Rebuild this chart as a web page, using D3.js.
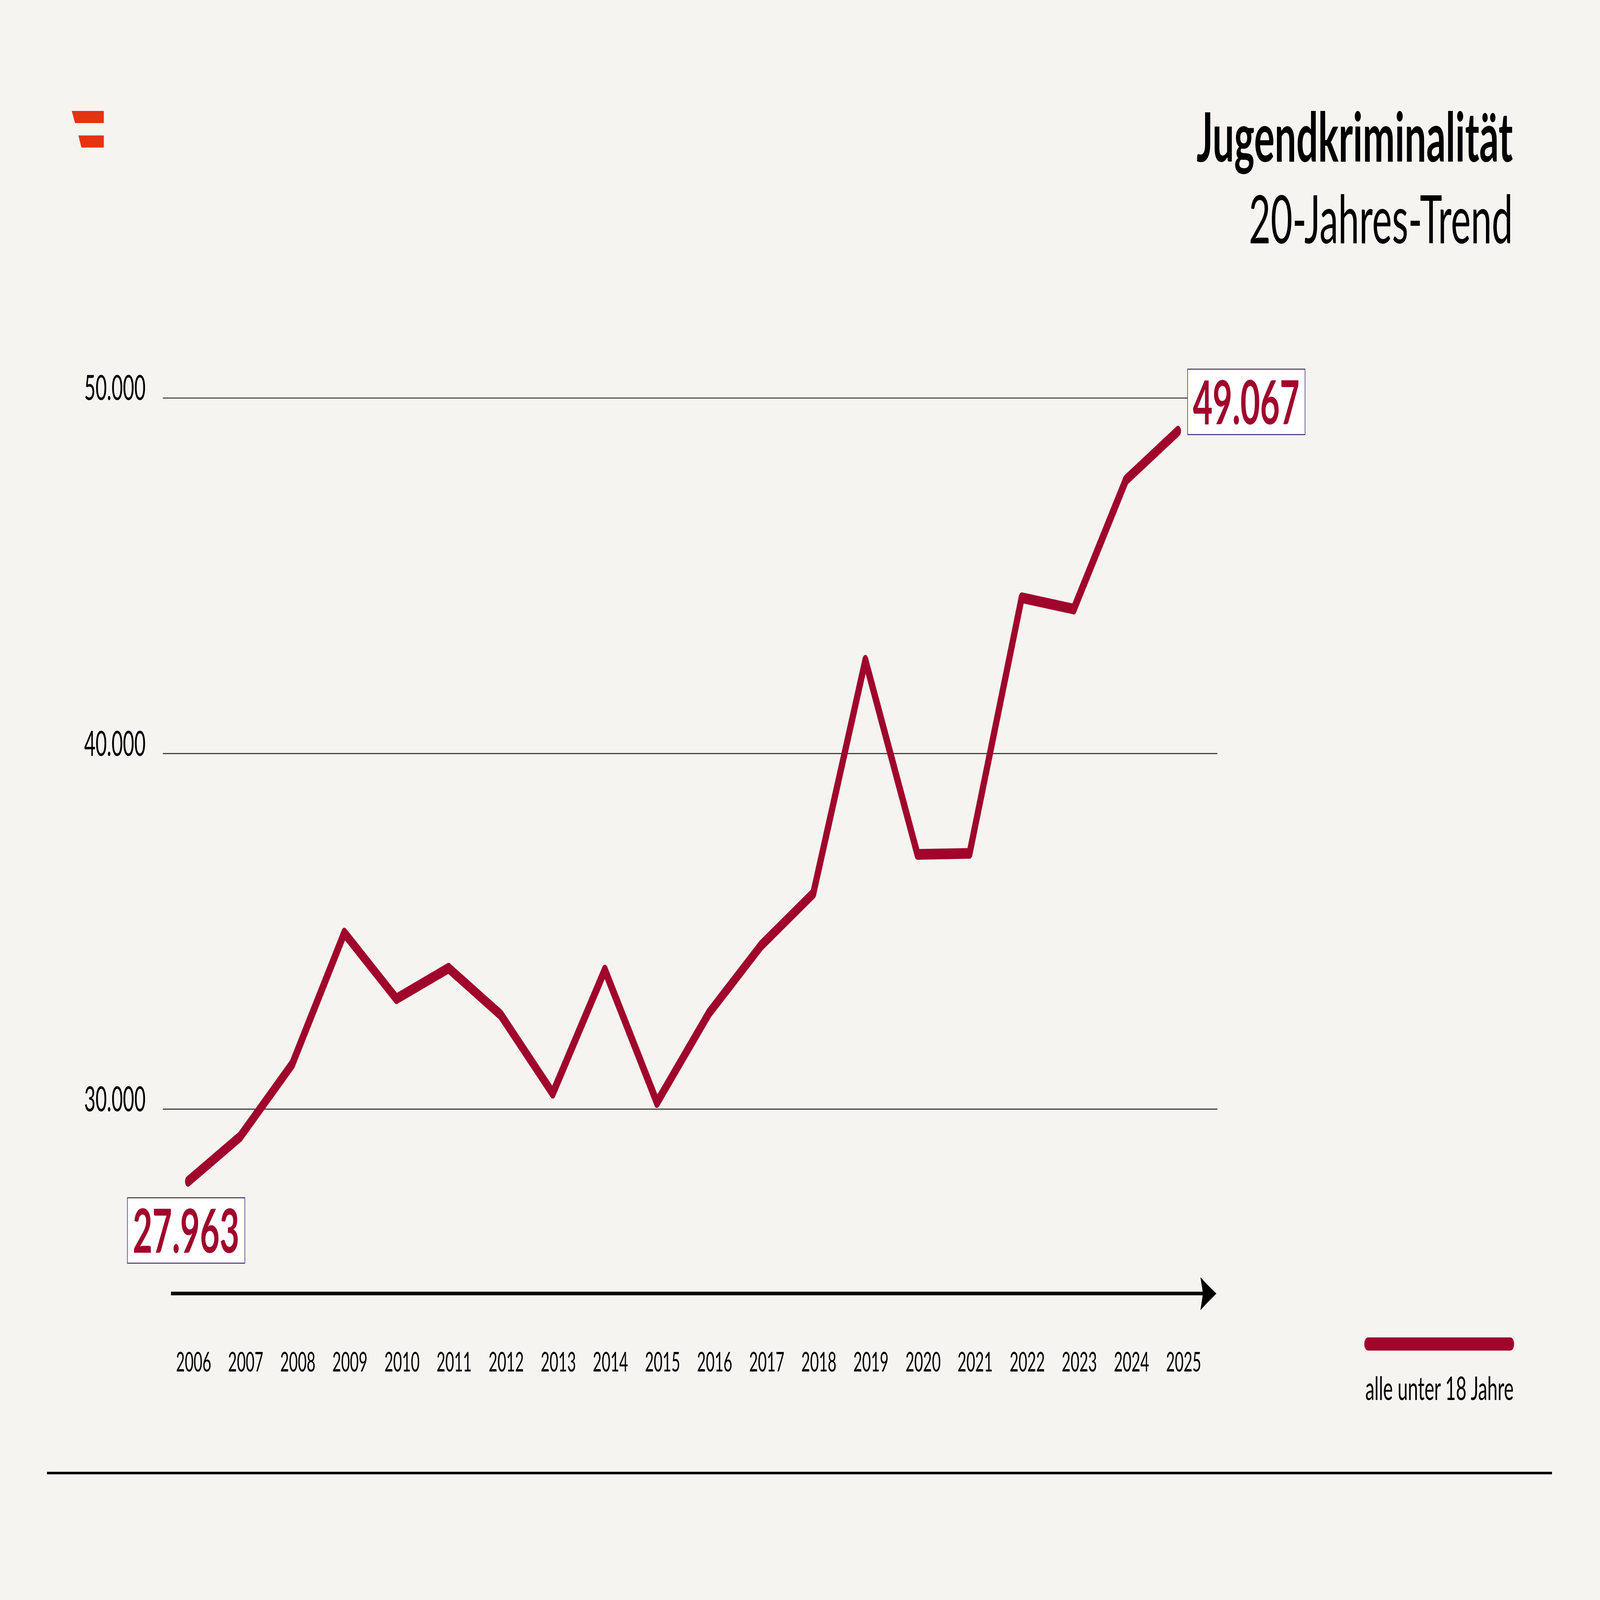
<!DOCTYPE html>
<html>
<head>
<meta charset="utf-8">
<script src="https://cdn.jsdelivr.net/npm/d3@7"></script>
<style>
  html, body { margin: 0; padding: 0; background: #f5f4f0; overflow: hidden; }
  svg { display: block; }
  text { font-family: Lato, "Open Sans", sans-serif; }
</style>
</head>
<body>
<script>
var width = 8000,
    height = 4500;

// data
var years = [2006, 2007, 2008, 2009, 2010, 2011, 2012, 2013, 2014, 2015,
             2016, 2017, 2018, 2019, 2020, 2021, 2022, 2023, 2024, 2025];
var values = [27963, 29220, 31260, 34950, 33100, 33960, 32650, 30440, 33910, 30180,
              32700, 34600, 36060, 42620, 37160, 37190, 44380, 44060, 47690, 49067];
var yTicks = [30000, 40000, 50000];
var title = "Jugendkriminalität",
    subtitle = "20-Jahres-Trend",
    seriesName = "alle unter 18 Jahre";

var red = "#a0052c";

var de = d3.formatLocale({ decimal: ",", thousands: ".", grouping: [3], currency: ["", "€"] });
var fmt = de.format(",d");

// fills the window; the drawing is laid out in 8000 x 4500 units
var svg = d3.select("body").append("svg")
    .attr("viewBox", [0, 0, width, height].join(" "))
    .attr("preserveAspectRatio", "none")
    .style("width", "100vw")
    .style("height", "100vh")
    .style("background", "#f5f4f0");

var x = d3.scalePoint()
    .domain(years)
    .range([940, 5890]);

var y = d3.scaleLinear()
    .domain([30000, 50000])
    .range([3119, 1119]);

// logo
var logo = svg.append("g").attr("fill", "#e63312");
logo.append("path").attr("d", "M359,312L519,312L519,346L375,346Z");
logo.append("path").attr("d", "M392,381L519,381L519,415L407,415Z");

// title
svg.append("text")
    .attr("x", 7564).attr("y", 455)
    .attr("text-anchor", "end")
    .attr("font-size", 192)
    .attr("font-weight", 700)
    .attr("fill", "#000")
    .text(title);

svg.append("text")
    .attr("x", 7564).attr("y", 684)
    .attr("text-anchor", "end")
    .attr("font-size", 188)
    .attr("font-weight", 400)
    .attr("fill", "#000")
    .text(subtitle);

// y grid + labels
var yAxis = svg.append("g")
    .attr("transform", "translate(814,0)")
    .call(d3.axisLeft(y)
        .tickValues(yTicks)
        .tickSize(-(6087 - 814))
        .tickPadding(86)
        .tickFormat(fmt));

yAxis.select(".domain").remove();
yAxis.selectAll(".tick line")
    .attr("stroke", "#333")
    .attr("stroke-width", 3);
yAxis.selectAll(".tick text")
    .attr("dy", 6)
    .attr("font-size", 98)
    .attr("font-family", "Lato, sans-serif")
    .attr("fill", "#000");

// x arrow
svg.append("line")
    .attr("x1", 855).attr("x2", 6015)
    .attr("y1", 3638).attr("y2", 3638)
    .attr("stroke", "#000")
    .attr("stroke-width", 10);

svg.append("path")
    .attr("d", "M6082,3638Q6040,3616 6002,3592L6015,3638L6002,3685Q6040,3661 6082,3638Z")
    .attr("fill", "#000");

// x labels
svg.append("g").selectAll("text")
    .data(years)
    .enter().append("text")
    .attr("x", function(d) { return x(d) + 28; })
    .attr("y", 3857)
    .attr("text-anchor", "middle")
    .attr("font-size", 76)
    .attr("fill", "#000")
    .text(function(d) { return d; });

// line
var line = d3.line()
    .x(function(d, i) { return x(years[i]); })
    .y(function(d) { return y(d); });

svg.append("path")
    .datum(values)
    .attr("d", line)
    .attr("fill", "none")
    .attr("stroke", red)
    .attr("stroke-width", 30)
    .attr("stroke-linejoin", "round")
    .attr("stroke-linecap", "round");

// end labels
var n = values.length;
var labels = [
    { v: values[0], cx: x(years[0]) - 10, top: y(values[0]) + 46 },
    { v: values[n - 1], cx: x(years[n - 1]) + 341, top: y(values[n - 1]) - 174 }
];

var lab = svg.append("g").selectAll("g")
    .data(labels)
    .enter().append("g")
    .attr("transform", function(d) { return "translate(" + [d.cx, d.top] + ")"; });

lab.append("rect")
    .attr("x", -293).attr("y", 0)
    .attr("width", 587).attr("height", 184)
    .attr("fill", "#fff")
    .attr("stroke", "#4a3a78")
    .attr("stroke-width", 3);

lab.append("text")
    .attr("x", 0).attr("y", 155)
    .attr("text-anchor", "middle")
    .attr("font-size", 170)
    .attr("font-weight", 700)
    .attr("fill", red)
    .text(function(d) { return fmt(d.v); });

// legend
svg.append("line")
    .attr("x1", 6840).attr("x2", 7552)
    .attr("y1", 3780).attr("y2", 3780)
    .attr("stroke", red)
    .attr("stroke-width", 37)
    .attr("stroke-linecap", "round");

svg.append("text")
    .attr("x", 7568).attr("y", 3937)
    .attr("text-anchor", "end")
    .attr("font-size", 92)
    .attr("fill", "#000")
    .text(seriesName);

// bottom rule
svg.append("line")
    .attr("x1", 235).attr("x2", 7760)
    .attr("y1", 4143).attr("y2", 4143)
    .attr("stroke", "#000")
    .attr("stroke-width", 7);
</script>
</body>
</html>
